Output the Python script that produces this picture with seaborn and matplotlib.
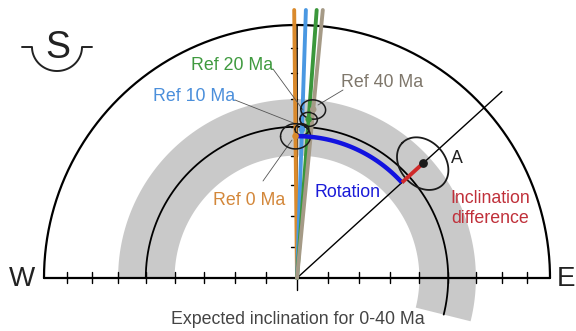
import numpy as np
import pandas as pd
import matplotlib
matplotlib.use("Agg")
import matplotlib.pyplot as plt
import seaborn as sns

# reference poles (declination rel. to north-up, inclination, a95) in degrees
ref_names = ["Ref 0 Ma", "Ref 10 Ma", "Ref 20 Ma", "Ref 40 Ma"]
ref_dec = [-0.6, 1.9, 4.2, 5.5]
ref_inc = [43.3, 40.9, 37.2, 33.5]
ref_a95 = [4.4, 2.0, 2.5, 3.5]
ref_colors = ["#da8a2c", "#4a98e2", "#3b973b", "#a59a86"]
label_colors = ["#d3873a", "#4b8fdb", "#3f9a3f", "#7f776b"]

# observed site A
site_dec = 47.7
site_inc = 33.1
site_a95 = 8.2

# expected inclination for 0-40 Ma and its range
exp_inc = 40.0
exp_lo, exp_hi = 30.0, 50.0
arc_start, arc_end = -90.0, 104.0

tick_inc = [10, 20, 30, 40, 50, 60, 70, 80]

R = 253.0  # primitive radius in pixels
CX, CY = 297, 278


def ea(dec, inc):
    # equal-area projection, centre = vertical
    p = np.radians(90 - np.asarray(inc, float))
    r = R * np.sqrt(2) * np.sin(p / 2)
    d = np.radians(dec)
    return r * np.sin(d), r * np.cos(d)


def small_circle(dec, inc, a95, n=120):
    d, i = np.radians(dec), np.radians(inc)
    v = np.array([np.cos(i) * np.cos(d), np.cos(i) * np.sin(d), np.sin(i)])
    u = np.cross(v, [0, 0, 1.0])
    u /= np.linalg.norm(u)
    w = np.cross(v, u)
    a = np.radians(a95)
    t = np.linspace(0, 2 * np.pi, n)
    pts = (np.outer(np.cos(a) * np.ones(n), v) +
           np.sin(a) * (np.outer(np.cos(t), u) + np.outer(np.sin(t), w)))
    inc_c = np.degrees(np.arcsin(np.clip(pts[:, 2], -1, 1)))
    dec_c = np.degrees(np.arctan2(pts[:, 1], pts[:, 0]))
    return ea(dec_c, inc_c)


def px(x, y):
    return x - CX, CY - y


sns.set_style("white")
plt.rcParams['font.family'] = ['Liberation Sans', 'DejaVu Sans']

fig = plt.figure(figsize=(5.76, 3.31), dpi=100)
ax = fig.add_axes([0, 0, 1, 1])
ax.set_xlim(-CX, 576 - CX)
ax.set_ylim(CY - 331, CY)
ax.axis("off")

# gray band of expected inclination range
ang = np.linspace(arc_start, arc_end, 300)
xo, yo = ea(ang, np.full_like(ang, exp_lo))
xi, yi = ea(ang[::-1], np.full_like(ang, exp_hi))
ax.fill(np.r_[xo, xi], np.r_[yo, yi], color="#c9c9c9", lw=0, zorder=1)

# expected inclination line
xe, ye = ea(ang, np.full_like(ang, exp_inc))
ax.plot(xe, ye, color="black", lw=1.3, zorder=2)

# primitive semicircle and horizontal axis
th = np.linspace(-90, 90, 300)
ax.plot(R * np.sin(np.radians(th)), R * np.cos(np.radians(th)), color="black", lw=1.6, zorder=2)
ax.plot([-R, R], [0, 0], color="black", lw=1.6, zorder=2)
ax.plot([0, 0], [0, R], color="black", lw=1.2, zorder=2)

# ticks
for inc in tick_inc:
    xt, _ = ea(90, inc)
    ax.plot([xt, xt], [-5, 6], color="black", lw=1.0, zorder=2)
    ax.plot([-xt, -xt], [-5, 6], color="black", lw=1.0, zorder=2)
    _, yt = ea(0, inc)
    ax.plot([-6, 0], [yt, yt], color="black", lw=1.0, zorder=2)
ax.plot([0, 0], [0, -12], color="black", lw=1.0, zorder=2)

# diagonal through site A
dd = np.radians(site_dec)
ax.plot([0, 1.095 * R * np.sin(dd)], [0, 1.095 * R * np.cos(dd)], color="black", lw=1.0, zorder=2)

# reference rays
rows = []
for name, dec in zip(ref_names, ref_dec):
    L = 268 / np.cos(np.radians(dec))
    rows.append({"ref": name, "x": 0.0, "y": 0.0, "k": 0})
    rows.append({"ref": name, "x": L * np.sin(np.radians(dec)), "y": L * np.cos(np.radians(dec)), "k": 1})
rays = pd.DataFrame(rows)
for name, col in zip(ref_names, ref_colors):
    sub = rays[rays["ref"] == name]
    sns.lineplot(data=sub, x="x", y="y", color=col, lw=2.8, sort=False,
                 estimator=None, legend=False, ax=ax, zorder=3)

# confidence circles
for dec, inc, a in zip(ref_dec, ref_inc, ref_a95):
    xc, yc = small_circle(dec, inc, a)
    ax.plot(xc, yc, color="#1a1a1a", lw=1.1, zorder=4)
xc, yc = small_circle(site_dec, site_inc, site_a95)
ax.plot(xc, yc, color="#1a1a1a", lw=1.3, zorder=4)

# rotation arc and inclination difference
rot = np.linspace(ref_dec[0], site_dec, 100)
xr, yr = ea(rot, np.full_like(rot, ref_inc[0]))
ax.plot(xr, yr, color="#1212e0", lw=3.2, zorder=5, solid_capstyle="butt")
x1, y1 = ea(site_dec, ref_inc[0])
x2, y2 = ea(site_dec, site_inc)
ax.plot([x1, x2], [y1, y2], color="#d02a2a", lw=2.8, zorder=5, solid_capstyle="butt")

# pole dots
dots = pd.DataFrame({"x": ea(np.array(ref_dec), ref_inc)[0],
                     "y": ea(np.array(ref_dec), ref_inc)[1], "ref": ref_names})
sns.scatterplot(data=dots, x="x", y="y", hue="ref", palette=ref_colors, s=22,
                edgecolor="none", legend=False, ax=ax, zorder=6)
ax.scatter([x2], [y2], s=28, color="#1a1a1a", zorder=6)

# leader lines
leaders = [((263, 181), (292, 140)), ((235, 100), (296, 124)),
           ((273, 69), (303, 110)), ((343, 90), (318, 105))]
for (a, b) in leaders:
    p1, p2 = px(*a), px(*b)
    ax.plot([p1[0], p2[0]], [p1[1], p2[1]], color="#555555", lw=0.6, zorder=3.5)

fs = 12.8
lab_pos = [(249, 205), (194, 101), (232, 70), (382, 87)]
for name, pos, col in zip(ref_names, lab_pos, label_colors):
    ax.text(*px(*pos), name, color=col, fontsize=fs, ha="center", va="baseline", zorder=7)
ax.text(*px(347, 197), "Rotation", color="#1a1ad8", fontsize=fs, ha="center", va="baseline", zorder=7)
ax.text(*px(490, 203), "Inclination", color="#c0303a", fontsize=fs, ha="center", va="baseline", zorder=7)
ax.text(*px(490, 223), "difference", color="#c0303a", fontsize=fs, ha="center", va="baseline", zorder=7)
ax.text(*px(457, 163), "A", color="#222222", fontsize=fs, ha="center", va="baseline", zorder=7)
ax.text(*px(22, 286), "W", color="#222222", fontsize=20, ha="center", va="baseline")
ax.text(*px(557, 286), "E", color="#222222", fontsize=20, ha="left", va="baseline")
ax.text(*px(298, 324), "Expected inclination for 0-40 Ma", color="#444444", fontsize=fs,
        ha="center", va="baseline")

# "S" view symbol: letter above a half-circle cup
ax.text(*px(58, 57.5), "S", color="#222222", fontsize=27, ha="center", va="baseline")
t = np.linspace(np.pi, 2 * np.pi, 60)
sx = np.r_[22, 57 + 25 * np.cos(t), 92]
sy = np.r_[47, 47 - 24 * np.sin(t), 47]
ax.plot(sx - CX, CY - sy, color="#222222", lw=1.4)

fig.savefig("out.png", dpi=100)
